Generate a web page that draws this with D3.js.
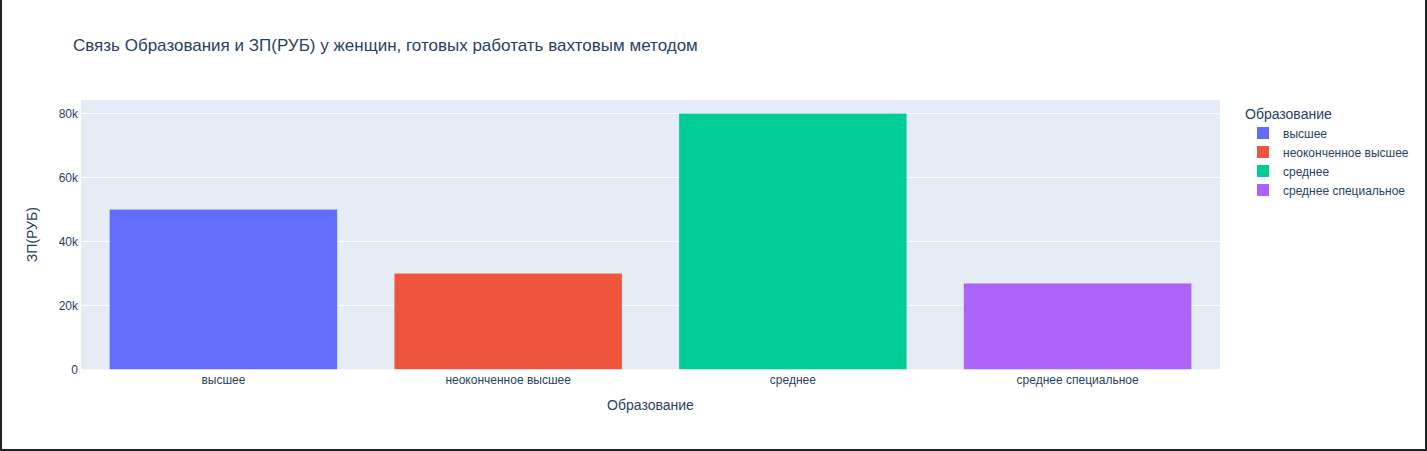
<!DOCTYPE html>
<html><head><meta charset="utf-8">
<script src="https://cdn.jsdelivr.net/npm/d3@7"></script>
<style>
html,body{margin:0;padding:0;background:#fff;}
svg{display:block;}
text{font-family:"Liberation Sans",Arial,sans-serif;fill:#2a3f5f;}
</style></head>
<body>
<svg id="chart" width="1427" height="451"></svg>
<script>
const categories = ["высшее","неоконченное высшее","среднее","среднее специальное"];
const salaries = [50000, 30000, 80000, 26900];
const colors = ["#636efa","#EF553B","#00cc96","#ab63fa"];
const yTicks = [0, 20000, 40000, 60000, 80000];
const yTickLabels = ["0","20k","40k","60k","80k"];
const title = "Связь Образования и ЗП(РУБ) у женщин, готовых работать вахтовым методом";
const xTitle = "Образование";
const yTitle = "ЗП(РУБ)";
const legendTitle = "Образование";

const W = 1427, H = 451;
const m = {left:81, right:1220, top:100, bottom:369.3};
const svg = d3.select("#chart");

// outer border (left, right, bottom)
svg.append("path").attr("d",`M1,0V${H-1}H${W-1}V0`).attr("fill","none").attr("stroke","#222").attr("stroke-width",2);

svg.append("rect").attr("x",m.left).attr("y",m.top).attr("width",m.right-m.left).attr("height",m.bottom-m.top).attr("fill","#E5ECF6");

const x = d3.scaleBand().domain(categories).range([m.left,m.right]).paddingInner(0.2).paddingOuter(0.1);
const y = d3.scaleLinear().domain([0, 80000*1.0526]).range([m.bottom,m.top]);

// grid
svg.append("g").selectAll("line").data(yTicks.slice(1)).join("line")
  .attr("x1",m.left).attr("x2",m.right)
  .attr("y1",d=>y(d)).attr("y2",d=>y(d))
  .attr("stroke","#fff").attr("stroke-width",1);

// bars
svg.append("g").selectAll("rect").data(categories).join("rect")
  .attr("x",d=>x(d)).attr("width",x.bandwidth())
  .attr("y",(d,i)=>y(salaries[i])).attr("height",(d,i)=>y(0)-y(salaries[i]))
  .attr("fill",(d,i)=>colors[i])
  .attr("stroke","rgba(229,236,246,0.6)").attr("stroke-width",0.5);

// y axis
const yAxis = d3.axisLeft(y).tickValues(yTicks).tickFormat((d,i)=>yTickLabels[i]).tickSize(0).tickPadding(3);
const ga = svg.append("g").attr("transform",`translate(${m.left},0)`).call(yAxis);
ga.select(".domain").remove();
ga.selectAll("text").attr("font-size",12).style("font-family","Liberation Sans, Arial, sans-serif").attr("fill","#2a3f5f");

// x axis
const xAxis = d3.axisBottom(x).tickSize(0).tickPadding(6);
const gx = svg.append("g").attr("transform",`translate(0,${m.bottom})`).call(xAxis);
gx.select(".domain").remove();
gx.selectAll("text").attr("font-size",12).style("font-family","Liberation Sans, Arial, sans-serif").attr("fill","#2a3f5f");

// titles
svg.append("text").attr("x",73).attr("y",51).attr("font-size",17).text(title);
svg.append("text").attr("x",(m.left+m.right)/2).attr("y",410).attr("text-anchor","middle").attr("font-size",14).text(xTitle);
svg.append("text").attr("transform",`translate(37,${(m.top+m.bottom)/2}) rotate(-90)`).attr("text-anchor","middle").attr("font-size",14).text(yTitle);

// legend
const lg = svg.append("g");
lg.append("text").attr("x",1245).attr("y",119).attr("font-size",14).text(legendTitle);
const items = lg.selectAll("g.item").data(categories).join("g").attr("class","item")
  .attr("transform",(d,i)=>`translate(0,${133+i*19})`);
items.append("rect").attr("x",1257).attr("y",-6).attr("width",12).attr("height",12).attr("fill",(d,i)=>colors[i]);
items.append("text").attr("x",1283).attr("y",4.5).attr("font-size",12).text(d=>d);
</script>
</body></html>
